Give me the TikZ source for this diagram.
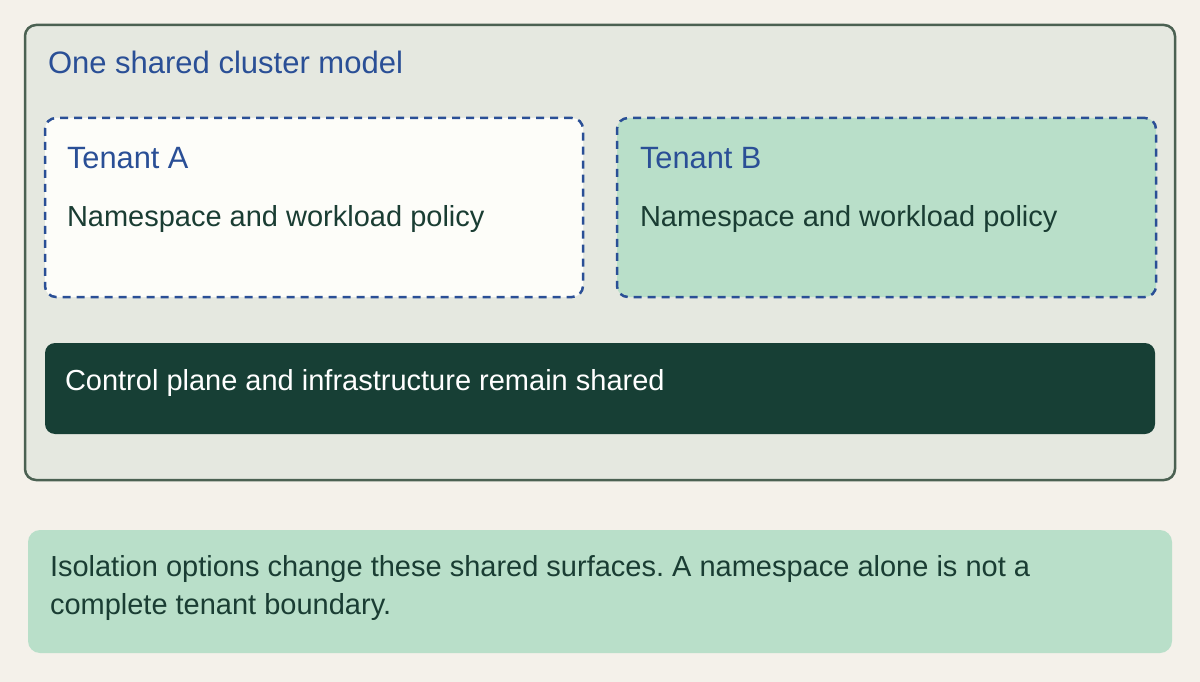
\documentclass[tikz,border=0pt]{standalone}
\usepackage{fontspec}
\setmainfont{Liberation Sans}
\frenchspacing
\definecolor{bg}{HTML}{F4F1EA}
\definecolor{outerfill}{HTML}{E5E8E0}
\definecolor{outerline}{HTML}{4B6152}
\definecolor{blueink}{HTML}{2A4F96}
\definecolor{greenink}{HTML}{1A3D33}
\definecolor{tafill}{HTML}{FDFDF9}
\definecolor{mint}{HTML}{B9DFC9}
\definecolor{darkbar}{HTML}{173F35}
\tikzset{
  panel/.style={anchor=north west, inner sep=0pt, outer sep=0pt, rounded corners=11pt},
  outerbox/.style={panel, draw=outerline, fill=outerfill, line width=2.5pt},
  tenantbox/.style={panel, draw=blueink, line width=2.5pt, dash pattern=on 8pt off 6pt},
  plainbox/.style={panel, rounded corners=10pt},
  label/.style={anchor=base west, inner sep=0pt, outer sep=0pt},
  title/.style={label, text=blueink, font=\fontsize{31}{36}\selectfont},
  body/.style={label, text=greenink, font=\fontsize{29}{38}\selectfont},
}
\begin{document}
\begin{tikzpicture}[x=1pt,y=-1pt]
\useasboundingbox[fill=bg] (0,0) rectangle (1200,682);
\node[outerbox, minimum width=1150pt, minimum height=455pt] (outer) at (25,25) {};
\node[title] (outertitle) at (48,74) {One shared cluster model};
\node[tenantbox, fill=tafill, minimum width=538pt, minimum height=179pt] (tenA) at (45,118) {};
\node[tenantbox, fill=mint, minimum width=539pt, minimum height=179pt] (tenB) at (617,118) {};
\node[title, font=\fontsize{30.8}{36}\selectfont] (tenAtitle) at (67,168.5) {Tenant A};
\node[body] (tenAbody) at (67,226) {Namespace and workload policy};
\node[title, font=\fontsize{30.8}{36}\selectfont] (tenBtitle) at (640,168.5) {Tenant B};
\node[body] (tenBbody) at (640,226) {Namespace and workload policy};
\node[plainbox, fill=darkbar, minimum width=1110pt, minimum height=91pt] (bar) at (45,343) {};
\node[body, text=white] (bartext) at (65,390) {Control plane and infrastructure remain shared};
\node[plainbox, fill=mint, rounded corners=12pt, minimum width=1144pt, minimum height=123pt] (note) at (28,530) {};
\node[body] (noteline1) at (50,576) {Isolation options change these shared surfaces. A namespace alone is not a};
\node[body] (noteline2) at (50,614) {complete tenant boundary.};
\end{tikzpicture}
\end{document}
